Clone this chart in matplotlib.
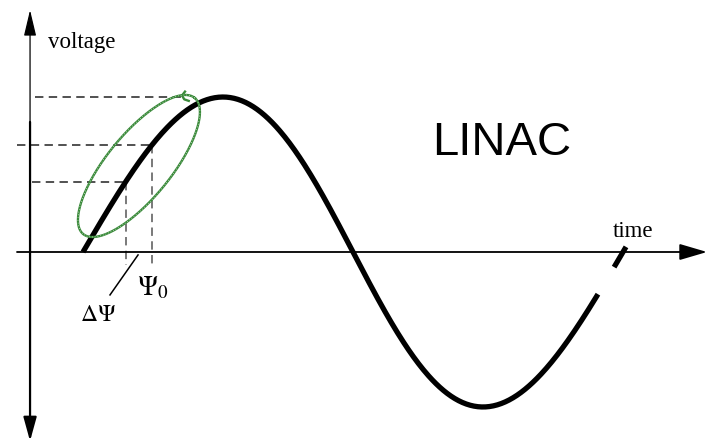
import numpy as np
import matplotlib.pyplot as plt

# phase (degrees) on the time axis, voltage normalised to the peak
phase_start = 0.0
phase_break = [344.2, 354.4]   # gap in the drawn curve
phase_end = 361.9
skew = 3.33          # the hand drawn wave leans a little to the right
psi0 = 43.5          # synchronous phase
psi_low = 27.0       # early particle phase (delta psi)

# axis extents (phase, voltage units)
x_min, x_max = -55.33, 417.33
y_min, y_max = -1.226, 1.626
v_axis_x = -35.3
h_axis_left = -44.0
h_axis_tip = 416.0
v_axis_top = 1.561
v_axis_split = 0.839
v_axis_bottom = -1.22

# green bunch ellipse: centre (phase, V), semi axes in pixels, tilt in degrees
ell_center = (37.3, 0.555)
ell_a, ell_b, ell_tilt = 88.0, 32.0, 50.7
# little hook where the pen stroke closed
hook_x = [68.0, 66.0, 67.5, 70.5]
hook_y = [1.035, 1.01, 0.985, 0.975]

px_per_deg = 1.5
px_per_volt = 155.0

plt.rcParams['mathtext.fontset'] = 'stix'


def wave_x(ph):
    return ph + skew * np.sin(np.radians(ph))


fig = plt.figure(figsize=(7.09, 4.42), dpi=100)
ax = fig.add_axes([0, 0, 1, 1])
ax.set_xlim(x_min, x_max)
ax.set_ylim(y_min, y_max)
ax.axis('off')

# sine wave, drawn in two pieces like the scanned figure
for p0, p1 in [(phase_start, phase_break[0]), (phase_break[1], phase_end)]:
    ph = np.linspace(p0, p1, 400)
    ax.plot(wave_x(ph), np.sin(np.radians(ph)), color='black', lw=3.8,
            solid_capstyle='butt', zorder=3)

# axes with arrow heads
ax.annotate('', xy=(h_axis_tip, 0), xytext=(h_axis_left, 0),
            arrowprops=dict(arrowstyle='-|>,head_length=1.7,head_width=0.5',
                            lw=1.3, color='black', shrinkA=0, shrinkB=0))
ax.annotate('', xy=(v_axis_x, v_axis_top), xytext=(v_axis_x, v_axis_split),
            arrowprops=dict(arrowstyle='-|>,head_length=1.6,head_width=0.38',
                            lw=0.9, color='black', shrinkA=0, shrinkB=0))
ax.annotate('', xy=(v_axis_x, v_axis_bottom), xytext=(v_axis_x, v_axis_split),
            arrowprops=dict(arrowstyle='-|>,head_length=1.45,head_width=0.4',
                            lw=1.6, color='black', shrinkA=0, shrinkB=0))

# dashed guide lines
dash = dict(lw=1.1, dashes=(5.5, 3.5))
v_top = 1.0
v_psi0 = np.sin(np.radians(psi0))
v_low = np.sin(np.radians(psi_low))
x_psi0 = wave_x(psi0)
x_low = wave_x(psi_low)
ax.plot([-32.0, 66.7], [v_top, v_top], color='#222222', **dash)
ax.plot([h_axis_left, x_psi0], [v_psi0, v_psi0], color='#222222', **dash)
ax.plot([-34.0, x_low], [v_low, v_low], color='#222222', **dash)
ax.plot([x_psi0, x_psi0], [v_psi0, -0.084], color='#555555', **dash)
ax.plot([x_low, x_low], [v_low, -0.084], color='#555555', **dash)

# leader line for delta psi
ax.plot([36.7, 18.0], [-0.019, -0.277], color='black', lw=1.1)

# green ellipse
t = np.linspace(0, 2 * np.pi, 300)
th = np.radians(ell_tilt)
dx = ell_a * np.cos(t) * np.cos(th) - ell_b * np.sin(t) * np.sin(th)
dy = ell_a * np.cos(t) * np.sin(th) + ell_b * np.sin(t) * np.cos(th)
ax.plot(ell_center[0] + dx / px_per_deg, ell_center[1] + dy / px_per_volt,
        color='#3a8a3a', lw=1.7, zorder=4)
ax.plot(ell_center[0] + dx / px_per_deg, ell_center[1] + dy / px_per_volt,
        color='white', lw=0.5, ls=(0, (1, 3)), zorder=5)
ax.plot(hook_x, hook_y, color='#3a8a3a', lw=1.7, zorder=4)

# labels
serif = ['Liberation Serif', 'DejaVu Serif']
ax.text(-23.3, 1.316, 'voltage', family=serif, fontsize=16.5, va='baseline')
ax.text(353.3, 0.097, 'time', family=serif, fontsize=16.5, va='baseline')
ax.text(-2.0, -0.445, r'$\Delta\Psi$', fontsize=17, va='baseline')
ax.text(36.0, -0.277, r'$\Psi_0$', fontsize=19.5, va='baseline')
ax.text(232.7, 0.626, 'LINAC', family=['Liberation Sans', 'DejaVu Sans'],
        fontsize=34, va='baseline')

fig.savefig('out.png', dpi=100)
